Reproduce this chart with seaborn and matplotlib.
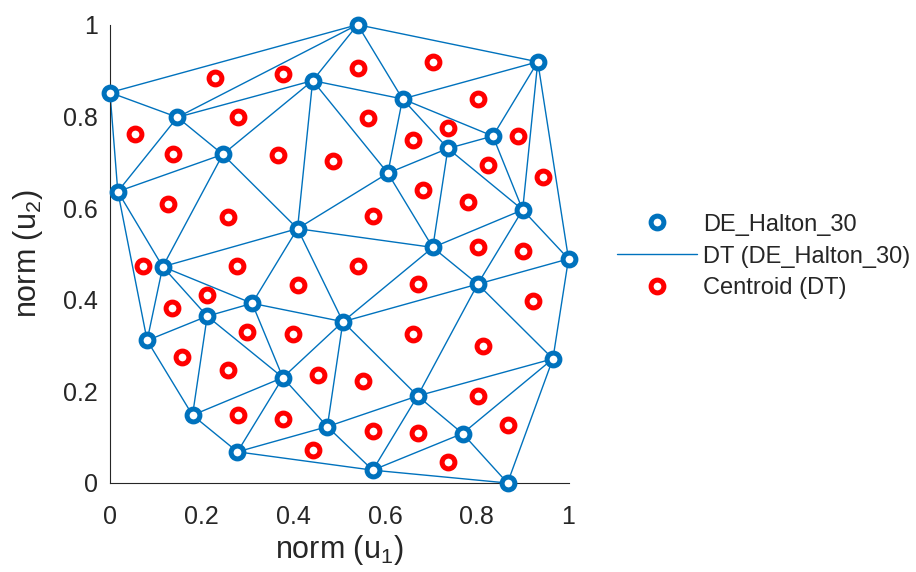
import numpy as np
import matplotlib
matplotlib.use("Agg")
import matplotlib.pyplot as plt
import matplotlib.tri as mtri
from matplotlib.lines import Line2D
import seaborn as sns

# -------------------- DATA --------------------
# normalised design points
u1 = [0.000, 0.147, 0.017, 0.246, 0.540, 0.442, 0.638, 0.933, 0.737, 0.835,
      0.606, 0.900, 1.000, 0.409, 0.704, 0.115, 0.310, 0.212, 0.508, 0.802,
      0.081, 0.966, 0.377, 0.671, 0.180, 0.474, 0.769, 0.278, 0.573, 0.867]
u2 = [0.852, 0.798, 0.636, 0.717, 1.000, 0.878, 0.838, 0.919, 0.730, 0.757,
      0.676, 0.596, 0.489, 0.555, 0.514, 0.472, 0.392, 0.364, 0.352, 0.434,
      0.311, 0.271, 0.230, 0.190, 0.148, 0.123, 0.108, 0.068, 0.028, 0.000]

point_label = "DE_Halton_30"
tri_label = "DT (DE_Halton_30)"
cent_label = "Centroid (DT)"
ticks = [0, 0.2, 0.4, 0.6, 0.8, 1]
tick_labels = ["0", "0.2", "0.4", "0.6", "0.8", "1"]

BLUE = "#0072BD"
RED = "#FF0000"
AXCOL = "#262626"

# -------------------- STYLE --------------------
sns.set_style("white")
plt.rcParams["font.family"] = ["Liberation Sans", "DejaVu Sans"]
plt.rcParams["mathtext.fontset"] = "custom"
plt.rcParams["mathtext.rm"] = "Liberation Sans"
plt.rcParams["mathtext.it"] = "Liberation Sans"

fig = plt.figure(figsize=(9.16, 5.72), dpi=100)
ax = fig.add_axes([110 / 916, 1 - 483 / 572, 458.5 / 916, 458.3 / 572])

# -------------------- DELAUNAY --------------------
x = np.array(u1)
y = np.array(u2)
tri = mtri.Triangulation(x, y)
cx = x[tri.triangles].mean(axis=1)
cy = y[tri.triangles].mean(axis=1)

ax.triplot(tri, color=BLUE, lw=1.0, zorder=1, clip_on=False)

sns.scatterplot(x=x, y=y, ax=ax, marker="o", s=85, facecolor="white",
                edgecolor=BLUE, linewidth=3.6, zorder=3, clip_on=False)
sns.scatterplot(x=cx, y=cy, ax=ax, marker="o", s=85, facecolor="white",
                edgecolor=RED, linewidth=3.6, zorder=3, clip_on=False)

# -------------------- AXES --------------------
ax.set_xlim(0, 1)
ax.set_ylim(0, 1)
ax.set_xticks(ticks)
ax.set_xticklabels(tick_labels)
ax.set_yticks(ticks)
ax.set_yticklabels(tick_labels)
ax.tick_params(direction="in", length=5, width=0.8, colors=AXCOL, labelsize=18)
ax.tick_params(axis="x", pad=15.5)
ax.tick_params(axis="y", pad=8.5)
sns.despine(ax=ax)
for s in ["left", "bottom"]:
    ax.spines[s].set_color(AXCOL)
    ax.spines[s].set_linewidth(0.8)
ax.set_xlabel("norm (u$_1$)", fontsize=22, color=AXCOL, labelpad=3)
ax.set_ylabel("norm (u$_2$)", fontsize=22, color=AXCOL, labelpad=13)

handles = [
    Line2D([], [], ls="none", marker="o", ms=9.2, mfc="white", mec=BLUE, mew=3.6),
    Line2D([], [], color=BLUE, lw=1.0),
    Line2D([], [], ls="none", marker="o", ms=9.2, mfc="white", mec=RED, mew=3.6),
]
fig.legend(handles, [point_label, tri_label, cent_label],
           loc="center left", bbox_to_anchor=(617 / 916, 1 - 256.5 / 572),
           frameon=False, fontsize=17, handlelength=3.4, handletextpad=0.25,
           labelspacing=0.42, borderpad=0, borderaxespad=0, numpoints=1)

fig.savefig("out.png", dpi=100)
